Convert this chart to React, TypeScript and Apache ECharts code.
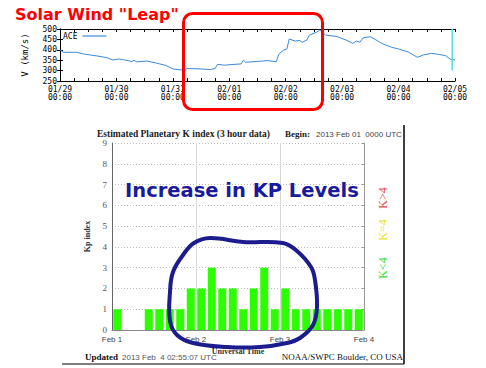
import React, { useEffect, useRef } from "react";
import * as echarts from "echarts";

// ---- Solar wind (ACE) speed, hours since 01/29 00:00 ----
const speedHours = [0, 1.4, 7, 10, 16, 20, 22.5, 25, 27, 29, 30.5, 31.5, 32.5, 34, 37, 41, 45, 48, 52, 53, 54, 60, 64, 66, 67, 70, 74, 77, 78, 79, 85, 88, 92, 93, 95, 96.5, 97.5, 100, 102, 103, 105, 106, 109, 110.5, 112, 113, 118, 122, 124.5, 126, 127.5, 129, 132, 134, 137, 141, 144, 148, 152, 154.5, 158, 161, 164, 166, 168];
const speedValues = [400, 388, 388, 380, 370, 362, 351, 356, 352, 348, 343, 350, 342, 343, 346, 336, 325, 308, 303, 300, 310, 308, 305, 310, 330, 326, 330, 332, 350, 340, 345, 348, 343, 378, 398, 404, 452, 442, 445, 436, 447, 470, 484, 495, 480, 471, 463, 445, 431, 442, 436, 458, 463, 450, 430, 412, 404, 390, 364, 375, 383, 378, 372, 355, 351];
const dateLabels = ["01/29", "01/30", "01/31", "02/01", "02/02", "02/03", "02/04", "02/05"];
const speedTicks = [250, 300, 350, 400, 450, 500];
const markerHour = 166.8;
const markerSpan = [302, 500];

// ---- Estimated planetary K index, 3-hour slots from Feb 01 00:00 ----
const kpValues = [1, 0, 0, 1, 1, 1, 1, 2, 2, 3, 2, 2, 1, 2, 3, 1, 2, 1, 1, 1, 1, 1, 1, 1];
const kpDayLabels = ["Feb 1", "Feb 2", "Feb 3", "Feb 4"];

const MONO = "DejaVu Sans Mono";
const SERIF = "Liberation Serif";
const SANS = "Liberation Sans";

export default function App() {
  const ref = useRef<HTMLDivElement>(null);

  useEffect(() => {
    if (!ref.current) return;
    const chart = echarts.init(ref.current, null, { renderer: "svg" });

    const speedData = speedHours.map((h, i) => [h, speedValues[i]]);
    const kpData = kpValues.map((v, i) => [i * 3 + 1.5, v]);

    const blobPoints = [
      [210, 238], [243, 242], [283, 243], [297, 251], [311, 267], [315, 280],
      [317, 307], [313, 325], [300, 338], [287, 343], [260, 347], [227, 347],
      [193, 343], [177, 335], [170, 321], [170, 292], [173, 272], [183, 255], [194, 243],
    ];

    chart.setOption({
      animation: false,
      backgroundColor: "#ffffff",
      grid: [
        { left: 60, right: 31, top: 29, height: 52 },
        { left: 112, right: 122, top: 143, height: 187 },
      ],
      legend: {
        data: ["ACE"],
        left: 63,
        top: 32,
        padding: 0,
        align: "right",
        icon: "rect",
        itemWidth: 24,
        itemHeight: 1.2,
        textStyle: { fontFamily: MONO, fontSize: 8, color: "#000" },
      },
      xAxis: [
        {
          gridIndex: 0,
          type: "value",
          min: 0,
          max: 168,
          interval: 6,
          axisLine: { lineStyle: { color: "#000", width: 1 } },
          axisTick: { inside: true, length: 3, lineStyle: { color: "#000" } },
          splitLine: { show: false },
          axisLabel: {
            margin: 4,
            fontFamily: MONO,
            fontSize: 8,
            lineHeight: 8,
            color: "#000",
            formatter: (v: number) => (v % 24 === 0 ? `${dateLabels[v / 24]}\n00:00` : ""),
          },
        },
        {
          gridIndex: 0,
          type: "value",
          position: "top",
          min: 0,
          max: 168,
          interval: 6,
          axisLine: { show: true, lineStyle: { color: "#000", width: 1 } },
          axisTick: { show: true, inside: true, length: 3, lineStyle: { color: "#000" } },
          axisLabel: { show: false },
          splitLine: { show: false },
        },
        {
          gridIndex: 1,
          type: "value",
          min: 0,
          max: 72,
          interval: 24,
          name: "Universal Time",
          nameLocation: "middle",
          nameGap: 11,
          nameTextStyle: { fontFamily: SERIF, fontSize: 8, fontWeight: "bold", color: "#333", verticalAlign: "top" },
          axisLine: { lineStyle: { color: "#888" } },
          axisTick: { show: false },
          splitLine: { show: true, lineStyle: { color: "#d8d8d8", width: 1 } },
          axisLabel: {
            margin: 5,
            fontFamily: SANS,
            fontSize: 8,
            color: "#444",
            formatter: (v: number) => kpDayLabels[v / 24],
          },
        },
      ],
      yAxis: [
        {
          gridIndex: 0,
          type: "value",
          min: speedTicks[0],
          max: speedTicks[speedTicks.length - 1],
          interval: 50,
          name: "V (km/s)",
          nameLocation: "middle",
          nameGap: 31,
          nameTextStyle: { fontFamily: MONO, fontSize: 9, color: "#000" },
          axisLine: { show: true, lineStyle: { color: "#000" } },
          axisTick: { show: true, inside: true, length: 3, lineStyle: { color: "#000" } },
          splitLine: { show: false },
          axisLabel: { margin: 3, fontFamily: MONO, fontSize: 8, color: "#000" },
        },
        {
          gridIndex: 0,
          type: "value",
          position: "right",
          min: 250,
          max: 500,
          interval: 50,
          axisLine: { show: true, lineStyle: { color: "#000" } },
          axisTick: { show: true, inside: true, length: 3, lineStyle: { color: "#000" } },
          axisLabel: { show: false },
          splitLine: { show: false },
        },
        {
          gridIndex: 1,
          type: "value",
          min: 0,
          max: 9,
          interval: 1,
          name: "Kp index",
          nameLocation: "middle",
          nameGap: 12,
          nameTextStyle: { fontFamily: SERIF, fontSize: 8, fontWeight: "bold", color: "#333" },
          axisLine: { show: true, lineStyle: { color: "#666" } },
          axisTick: { show: false },
          splitLine: { show: true, lineStyle: { color: "#bbbbbb", type: [1, 2] } },
          axisLabel: { margin: 5, fontFamily: SERIF, fontSize: 9, color: "#555" },
        },
        {
          gridIndex: 1,
          type: "value",
          position: "right",
          min: 0,
          max: 9,
          interval: 1,
          axisLine: { show: true, lineStyle: { color: "#999" } },
          axisTick: { show: true, inside: true, length: 2, lineStyle: { color: "#999" } },
          axisLabel: { show: false },
          splitLine: { show: false },
        },
      ],
      series: [
        {
          name: "ACE",
          type: "line",
          xAxisIndex: 0,
          yAxisIndex: 0,
          data: speedData,
          symbol: "none",
          color: "#3a8ad8",
          lineStyle: { color: "#3a8ad8", width: 1 },
        },
        {
          name: "marker",
          type: "line",
          xAxisIndex: 0,
          yAxisIndex: 0,
          data: [[markerHour, markerSpan[0]], [markerHour, markerSpan[1]]],
          symbol: "none",
          lineStyle: { color: "#4fe0e0", width: 1.5 },
        },
        {
          name: "Kp",
          type: "bar",
          xAxisIndex: 2,
          yAxisIndex: 2,
          data: kpData,
          barWidth: 8,
          itemStyle: { color: "#2cff00" },
        },
      ],
      graphic: [
        {
          type: "text",
          x: 15,
          y: 14.5,
          z: 100,
          style: {
            text: 'Solar Wind "Leap"',
            font: `bold 16px "DejaVu Sans"`,
            fill: "#ff0000",
            textVerticalAlign: "middle",
          },
        },
        {
          type: "rect",
          z: 100,
          shape: { x: 183.5, y: 13.5, width: 139, height: 96, r: 9 },
          style: { fill: "none", stroke: "#ff0000", lineWidth: 3 },
        },
        {
          type: "text",
          x: 97,
          y: 134,
          z: 100,
          style: {
            text: "Estimated Planetary K index (3 hour data)",
            font: `bold 9.5px "${SERIF}"`,
            fill: "#222",
            textVerticalAlign: "middle",
          },
        },
        {
          type: "text",
          x: 285,
          y: 134,
          z: 100,
          style: { text: "Begin:", font: `bold 9px "${SERIF}"`, fill: "#222", textVerticalAlign: "middle" },
        },
        {
          type: "text",
          x: 316,
          y: 134,
          z: 100,
          style: { text: "2013 Feb 01  0000 UTC", font: `8px "${SANS}"`, fill: "#444", textVerticalAlign: "middle" },
        },
        {
          type: "text",
          x: 125,
          y: 190,
          z: 100,
          style: {
            text: "Increase in KP Levels",
            font: `bold 19.5px "DejaVu Sans"`,
            fill: "#1a1a9c",
            textVerticalAlign: "middle",
          },
        },
        {
          type: "text",
          x: 383,
          y: 198,
          rotation: Math.PI / 2,
          z: 100,
          style: { text: "K>4", font: `12px "${SERIF}"`, fill: "#e05050", textAlign: "center", textVerticalAlign: "middle" },
        },
        {
          type: "text",
          x: 383,
          y: 230,
          rotation: Math.PI / 2,
          z: 100,
          style: { text: "K=4", font: `12px "${SERIF}"`, fill: "#e6e630", textAlign: "center", textVerticalAlign: "middle" },
        },
        {
          type: "text",
          x: 383,
          y: 268,
          rotation: Math.PI / 2,
          z: 100,
          style: { text: "K<4", font: `12px "${SERIF}"`, fill: "#3cdc3c", textAlign: "center", textVerticalAlign: "middle" },
        },
        {
          type: "line",
          z: 100,
          shape: { x1: 404, y1: 125, x2: 404, y2: 364 },
          style: { stroke: "#000", lineWidth: 1.5 },
        },
        {
          type: "line",
          z: 100,
          shape: { x1: 62, y1: 364, x2: 404, y2: 364 },
          style: { stroke: "#000", lineWidth: 1 },
        },
        {
          type: "text",
          x: 85,
          y: 357,
          z: 100,
          style: { text: "Updated", font: `bold 9px "${SERIF}"`, fill: "#111", textVerticalAlign: "middle" },
        },
        {
          type: "text",
          x: 122,
          y: 357,
          z: 100,
          style: { text: "2013 Feb  4 02:55:07 UTC", font: `8px "${SANS}"`, fill: "#555", textVerticalAlign: "middle" },
        },
        {
          type: "text",
          x: 403,
          y: 357,
          z: 100,
          style: {
            text: "NOAA/SWPC Boulder, CO USA",
            font: `9px "${SERIF}"`,
            fill: "#111",
            textAlign: "right",
            textVerticalAlign: "middle",
          },
        },
        {
          type: "polygon",
          z: 110,
          shape: { points: blobPoints, smooth: 0.4 },
          style: { fill: "none", stroke: "#1c1c8e", lineWidth: 4 },
        },
      ],
    });

    return () => chart.dispose();
  }, []);

  return (
    <div
      ref={ref}
      style={{ position: "fixed", left: 0, top: 0, width: 486, height: 368, background: "#fff" }}
    />
  );
}
